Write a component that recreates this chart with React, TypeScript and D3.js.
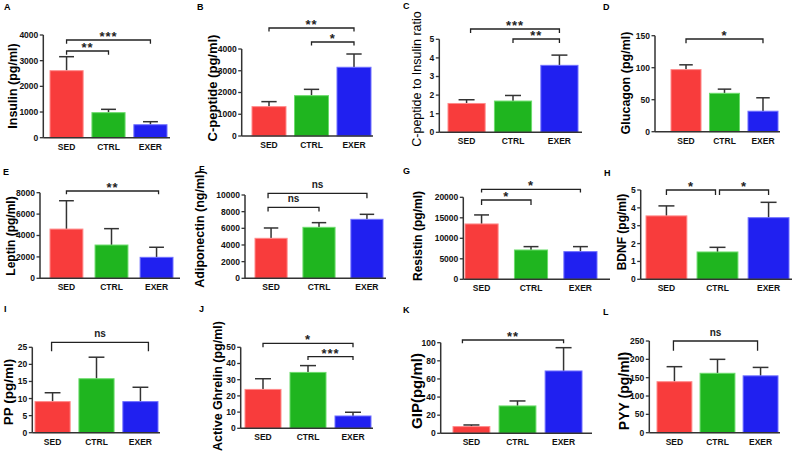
import React from "react";
import * as d3 from "d3";

const categories = ["SED", "CTRL", "EXER"];
const barFills = ["#f83c3c", "#1fb51f", "#2020f0"];
const barEdges = ["#ff8a8a", "#6cdc6c", "#7070ff"];

// A Insulin
const insulin = [2610, 975, 505];
const insulinSem = [545, 130, 118];
const insulinTicks = [0, 1000, 2000, 3000, 4000];
// B C-peptide
const cPeptide = [1350, 1855, 3160];
const cPeptideSem = [230, 290, 610];
const cPeptideTicks = [0, 1000, 2000, 3000, 4000];
// C ratio
const ratio = [1.55, 1.68, 3.6];
const ratioSem = [0.2, 0.3, 0.55];
const ratioTicks = [0, 1, 2, 3, 4, 5];
// D Glucagon
const glucagon = [97, 60, 32];
const glucagonSem = [7.5, 6.5, 21];
const glucagonTicks = [0, 50, 100, 150];
// E Leptin
const leptin = [4600, 3110, 1960];
const leptinSem = [2650, 1530, 940];
const leptinTicks = [0, 2000, 4000, 6000, 8000];
// F Adiponectin
const adiponectin = [4800, 6120, 7080];
const adiponectinSem = [1240, 560, 600];
const adiponectinTicks = [0, 2000, 4000, 6000, 8000, 10000];
// G Resistin
const resistin = [13500, 7150, 6750];
const resistinSem = [2200, 820, 1220];
const resistinTicks = [0, 5000, 10000, 15000, 20000];
// H BDNF
const bdnf = [3.55, 1.53, 3.45];
const bdnfSem = [0.56, 0.26, 0.86];
const bdnfTicks = [0, 1, 2, 3, 4, 5];
// I PP
const pp = [9.1, 15.8, 9.1];
const ppSem = [2.6, 6.3, 4.2];
const ppTicks = [0, 5, 10, 15, 20, 25];
// J Active Ghrelin
const ghrelin = [24, 34.5, 7.6];
const ghrelinSem = [6.6, 4.2, 2.3];
const ghrelinTicks = [0, 10, 20, 30, 40, 50];
// K GIP
const gip = [7.4, 30.2, 68.8];
const gipSem = [1.8, 5.5, 25.7];
const gipTicks = [0, 20, 40, 60, 80, 100];
// L PYY
const pyy = [139, 162, 155];
const pyySem = [41, 38, 23];
const pyyTicks = [0, 50, 100, 150, 200, 250];

const panelLetters = ["A", "B", "C", "D", "E", "F", "G", "H", "I", "J", "K", "L"];
const yTitles = [
  "Insulin (pg/ml)",
  "C-peptide (pg/ml)",
  "C-peptide to Insulin ratio",
  "Glucagon (pg/ml)",
  "Leptin (pg/ml)",
  "Adiponectin (ng/ml)",
  "Resistin (pg/ml)",
  "BDNF (pg/ml)",
  "PP (pg/ml)",
  "Active Ghrelin (pg/ml)",
  "GIP(pg/ml)",
  "PYY (pg/ml)",
];
const seriesMeans = [insulin, cPeptide, ratio, glucagon, leptin, adiponectin, resistin, bdnf, pp, ghrelin, gip, pyy];
const seriesSems = [insulinSem, cPeptideSem, ratioSem, glucagonSem, leptinSem, adiponectinSem, resistinSem, bdnfSem, ppSem, ghrelinSem, gipSem, pyySem];
const seriesTicks = [insulinTicks, cPeptideTicks, ratioTicks, glucagonTicks, leptinTicks, adiponectinTicks, resistinTicks, bdnfTicks, ppTicks, ghrelinTicks, gipTicks, pyyTicks];

// significance brackets: [from, to, label]
const sigLabels = [
  [[0, 1, "**"], [0, 2, "***"]],
  [[0, 2, "**"], [1, 2, "*"]],
  [[0, 2, "***"], [1, 2, "**"]],
  [[0, 2, "*"]],
  [[0, 2, "**"]],
  [[0, 2, "ns"], [0, 1, "ns"]],
  [[0, 2, "*"], [0, 1, "*"]],
  [[0, 1, "*"], [1, 2, "*"]],
  [[0, 2, "ns"]],
  [[0, 2, "*"], [1, 2, "***"]],
  [[0, 2, "**"]],
  [[0, 2, "ns"]],
];

// layout (pixel positions)
const frames = [
  { axisX: 43.3, yTop: 35, yBottom: 137.7, barL: 50, barR: 167, pad: 0.21, axisEnd: 170, labelX: 12.5, labelY: 86, fs: 12.5, bold: true, lx: 4, ly: 10, brY: [51, 40], brT: [3.7, 3.7], brDx: [[0, 0], [0, 0]] },
  { axisX: 241.7, yTop: 49, yBottom: 136, barL: 252, barR: 371, pad: 0.2, axisEnd: 373, labelX: 212, labelY: 88, fs: 13, bold: true, lx: 197, ly: 10, brY: [28, 42], brT: [3.5, 3.5], brDx: [[0, 0], [0, 0]] },
  { axisX: 439.3, yTop: 39.3, yBottom: 132.3, barL: 448, barR: 578, pad: 0.2, axisEnd: 582, labelX: 417, labelY: 79, fs: 12.5, bold: false, lx: 403, ly: 9, brY: [29, 39], brT: [4, 4], brDx: [[4, 0], [0, 0]] },
  { axisX: 655, yTop: 35.7, yBottom: 131.7, barL: 671, barR: 778, pad: 0.22, axisEnd: 780, labelX: 626, labelY: 83, fs: 12.5, bold: true, lx: 603, ly: 10, brY: [39], brT: [4.3], brDx: [[0, 0]] },
  { axisX: 40, yTop: 192.7, yBottom: 278.3, barL: 50, barR: 173, pad: 0.27, axisEnd: 180, labelX: 11, labelY: 236, fs: 12, bold: true, lx: 3, ly: 175, brY: [191], brT: [3.3], brDx: [[0, 2]] },
  { axisX: 245, yTop: 195, yBottom: 278.3, barL: 255, barR: 383, pad: 0.33, axisEnd: 386, labelX: 200, labelY: 229, fs: 12.5, bold: true, lx: 199, ly: 172, brY: [193.3, 207.3], brT: [5, 4.3], brDx: [[-3, 0], [-3, 0]] },
  { axisX: 463.3, yTop: 197.3, yBottom: 279.3, barL: 465, barR: 597, pad: 0.33, axisEnd: 610, labelX: 418, labelY: 236, fs: 12, bold: true, lx: 403, ly: 174, brY: [189.3, 200], brT: [3.3, 5], brDx: [[0, 0], [0, 0]] },
  { axisX: 640.7, yTop: 190, yBottom: 279.3, barL: 646, barR: 789, pad: 0.2, axisEnd: 792, labelX: 622, labelY: 232, fs: 12, bold: true, lx: 604, ly: 176, brY: [190, 190], brT: [5, 5], brDx: [[0, -2], [2, 0]] },
  { axisX: 32.3, yTop: 347.3, yBottom: 432.7, barL: 35, barR: 158, pad: 0.2, axisEnd: 160, labelX: 8, labelY: 392, fs: 13.5, bold: true, lx: 4, ly: 312, brY: [342.3], brT: [9], brDx: [[-1, 8]] },
  { axisX: 240.7, yTop: 347.3, yBottom: 428.3, barL: 245, barR: 371, pad: 0.2, axisEnd: 373, labelX: 218, labelY: 386, fs: 12.5, bold: true, lx: 199, ly: 312, brY: [343.3, 356.7], brT: [4, 3.3], brDx: [[0, 0], [0, 0]] },
  { axisX: 440.7, yTop: 342.7, yBottom: 433.3, barL: 453, barR: 582, pad: 0.2, axisEnd: 592, labelX: 416, labelY: 391, fs: 15, bold: true, lx: 403, ly: 313, brY: [340], brT: [3.3], brDx: [[-9, 0]] },
  { axisX: 649.3, yTop: 341, yBottom: 432.7, barL: 657, barR: 778, pad: 0.19, axisEnd: 780, labelX: 624, labelY: 391, fs: 14, bold: true, lx: 603, ly: 315, brY: [341], brT: [9.7], brDx: [[-1, -3]] },
];

const FONT = "'Liberation Sans', Arial, sans-serif";
const AXIS = "#333";

function Panel({ i }: { i: number }) {
  const f = frames[i];
  const means = seriesMeans[i];
  const sems = seriesSems[i];
  const ticks = seriesTicks[i];
  const y = d3.scaleLinear().domain([0, d3.max(ticks) as number]).range([f.yBottom, f.yTop]);
  const x = d3.scaleBand<string>().domain(categories).range([f.barL, f.barR]).paddingInner(f.pad).paddingOuter(0);
  const bw = x.bandwidth();
  const cx = (k: number) => (x(categories[k]) as number) + bw / 2;
  const capW = Math.min(bw * 0.45, 16);
  return (
    <g>
      <text x={f.lx} y={f.ly} fontFamily={FONT} fontWeight="bold" fontSize={9} fill="#000">{panelLetters[i]}</text>
      <text
        transform={`translate(${f.labelX},${f.labelY}) rotate(-90)`}
        textAnchor="middle"
        dominantBaseline="central"
        fontFamily={FONT}
        fontWeight={f.bold ? "bold" : "normal"}
        fontSize={f.fs}
        fill="#000"
      >
        {yTitles[i]}
      </text>
      {categories.map((c, k) => (
        <g key={c}>
          <line x1={cx(k)} x2={cx(k)} y1={y(means[k])} y2={y(means[k] + sems[k])} stroke={AXIS} strokeWidth={1.5} />
          <line x1={cx(k) - capW / 2} x2={cx(k) + capW / 2} y1={y(means[k] + sems[k])} y2={y(means[k] + sems[k])} stroke={AXIS} strokeWidth={1.5} />
          <rect x={x(c)} y={y(means[k])} width={bw} height={y(0) - y(means[k])} fill={barFills[k]} stroke={barEdges[k]} strokeWidth={1} />
          <text x={cx(k)} y={f.yBottom + 12} textAnchor="middle" fontFamily={FONT} fontWeight="bold" fontSize={8.5} fill="#111">{c}</text>
        </g>
      ))}
      <line x1={f.axisX} x2={f.axisX} y1={f.yTop} y2={f.yBottom} stroke={AXIS} strokeWidth={1.5} />
      <line x1={f.axisX} x2={f.axisEnd} y1={f.yBottom} y2={f.yBottom} stroke={AXIS} strokeWidth={1.5} />
      {ticks.map((t) => (
        <g key={t}>
          <line x1={f.axisX - 3.5} x2={f.axisX} y1={y(t)} y2={y(t)} stroke={AXIS} strokeWidth={1.3} />
          <text x={f.axisX - 5} y={y(t)} dy="0.35em" textAnchor="end" fontFamily={FONT} fontWeight="bold" fontSize={8.5} fill="#111">{String(t)}</text>
        </g>
      ))}
      {sigLabels[i].map((s, j) => {
        const [a, b, lab] = s as [number, number, string];
        const by = f.brY[j];
        const x0 = cx(a) + f.brDx[j][0];
        const x1 = cx(b) + f.brDx[j][1];
        const t = f.brT[j];
        const isNs = lab === "ns";
        return (
          <g key={j}>
            <path d={`M${x0},${by + t}V${by}H${x1}V${by + t}`} fill="none" stroke="#222" strokeWidth={1.3} />
            <text
              x={(x0 + x1) / 2}
              y={isNs ? by - 5.5 : by + 1}
              textAnchor="middle"
              fontFamily={FONT}
              fontWeight="bold"
              fontSize={isNs ? 10 : 13}
              letterSpacing={isNs ? 0 : 1}
              fill="#222"
            >
              {lab}
            </text>
          </g>
        );
      })}
    </g>
  );
}

export default function App() {
  return (
    <svg width={800} height={451} style={{ position: "absolute", left: 0, top: 0, background: "#fff" }}>
      <rect width={800} height={451} fill="#fff" />
      {panelLetters.map((_, i) => (
        <Panel key={i} i={i} />
      ))}
    </svg>
  );
}
